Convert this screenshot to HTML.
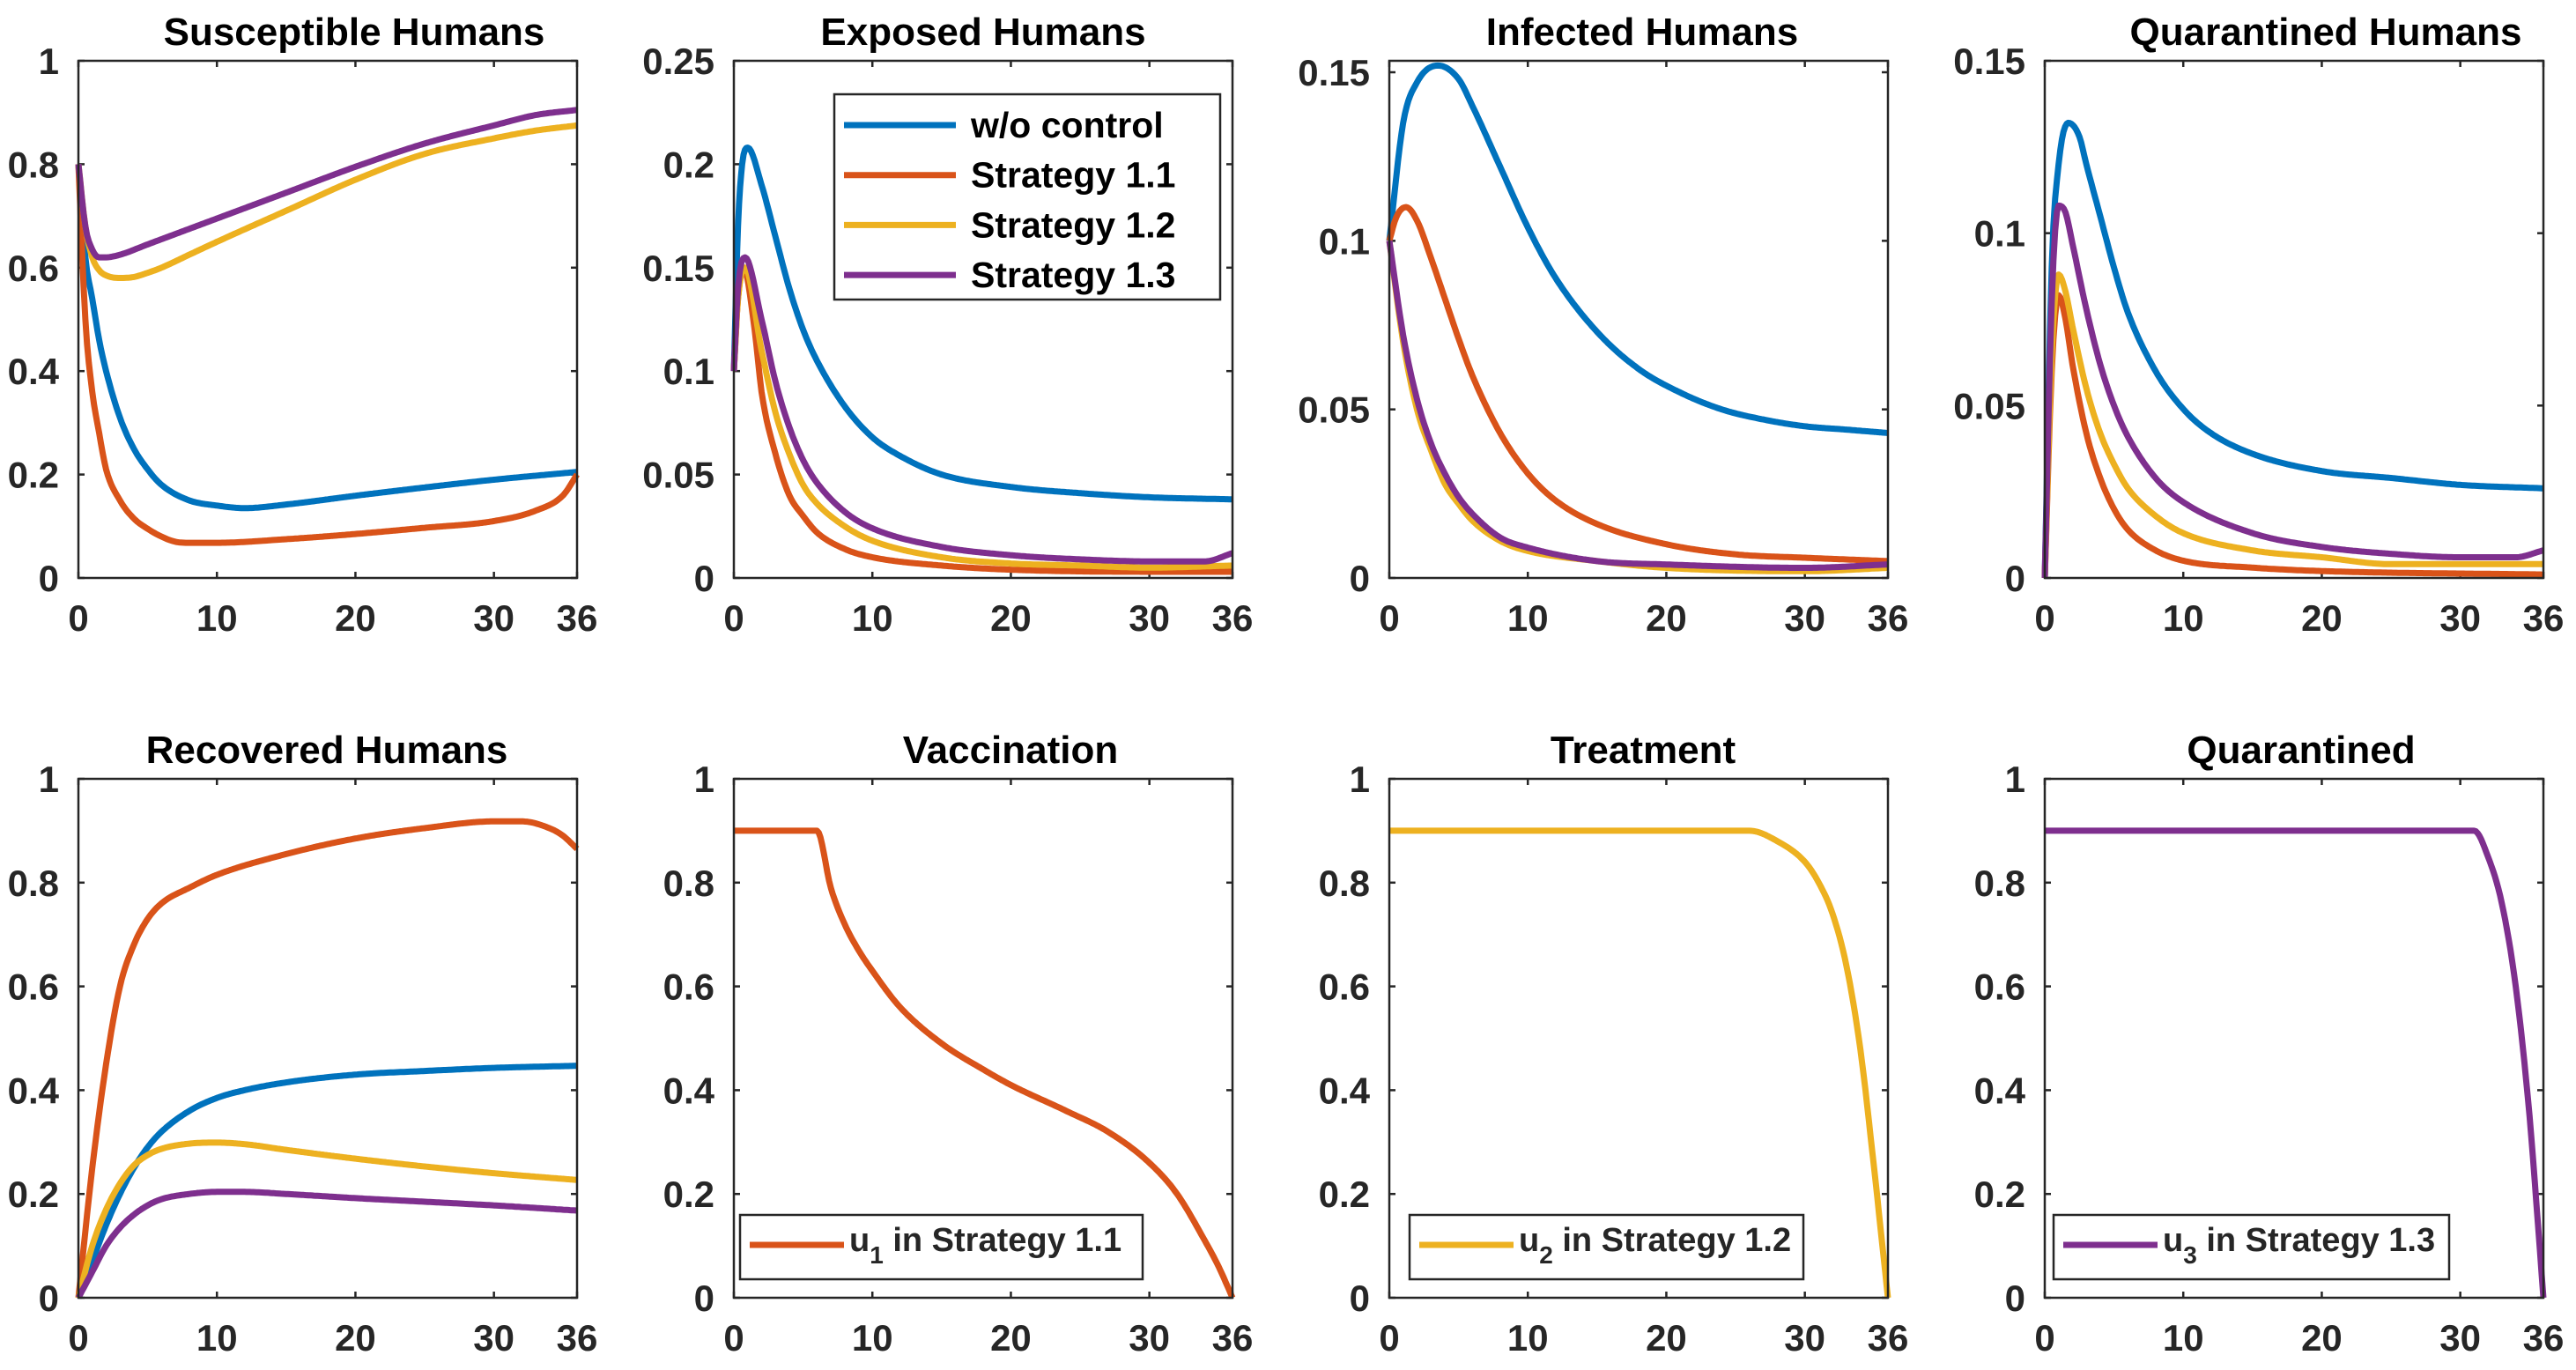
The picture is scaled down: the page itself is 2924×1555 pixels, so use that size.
<!DOCTYPE html>
<html><head><meta charset="utf-8"><style>
html,body{margin:0;padding:0;background:#fff}
svg{display:block}
text{font-family:"Liberation Sans",Arial,sans-serif;font-weight:bold;fill:#262626}
</style></head><body>
<svg id="fig" width="2924" height="1555" viewBox="0 0 2924 1555" xmlns="http://www.w3.org/2000/svg"></svg>
<script>
const xTicks=[0,10,20,30,36];
const titles=["Susceptible Humans","Exposed Humans","Infected Humans","Quarantined Humans","Recovered Humans","Vaccination","Treatment","Quarantined"];
const titleCenters=[402,1116,1864,2640,371,1147,1865,2612];
const yMaxes=[1,0.25,0.1534,0.15,1,1,1,1];
const yTicks1=[0,0.2,0.4,0.6,0.8,1];
const yTicks2=[0,0.05,0.1,0.15,0.2,0.25];
const yTicks3=[0,0.05,0.1,0.15];
const yTickLabels1=["0","0.2","0.4","0.6","0.8","1"];
const yTickLabels2=["0","0.05","0.1","0.15","0.2","0.25"];
const yTickLabels3=["0","0.05","0.1","0.15"];
const colors={blue:"#0072BD",red:"#D95319",yellow:"#EDB120",purple:"#7E2F8E"};
// Panel 1 Susceptible
const sT_blue=[0,0.5,1,1.5,2,3,4,5,6,8,10,12,15,20,25,30,36];
const sV_blue=[0.8,0.62,0.54,0.46,0.40,0.31,0.25,0.21,0.18,0.15,0.14,0.135,0.142,0.159,0.175,0.19,0.205];
const sT_red=[0,0.5,1,1.5,2,3,4,5,6,7,8,10,15,20,25,30,33,35,36];
const sV_red=[0.8,0.5,0.36,0.28,0.21,0.15,0.115,0.095,0.08,0.07,0.068,0.068,0.075,0.085,0.097,0.11,0.13,0.16,0.2];
const sT_yel=[0,0.5,1,1.5,2,3,4,5,6,8,10,15,20,25,30,33,36];
const sV_yel=[0.8,0.68,0.62,0.595,0.585,0.58,0.582,0.59,0.6,0.625,0.65,0.71,0.77,0.82,0.85,0.865,0.875];
const sT_pur=[0,0.5,1,1.5,2,3,5,8,10,15,20,25,30,33,36];
const sV_pur=[0.8,0.68,0.635,0.62,0.62,0.625,0.645,0.675,0.695,0.745,0.795,0.84,0.875,0.895,0.905];
// Panel 2 Exposed
const eT_blue=[0,0.3,0.6,1,2,3,4,5,6,8,10,12,15,20,25,30,36];
const eV_blue=[0.1,0.17,0.2,0.208,0.19,0.165,0.14,0.12,0.105,0.083,0.068,0.059,0.05,0.044,0.041,0.039,0.038];
const eT_red=[0,0.3,0.7,1.5,2,3,4,5,6,8,10,15,20,30,36];
const eV_red=[0.1,0.135,0.15,0.12,0.09,0.06,0.04,0.03,0.022,0.014,0.01,0.006,0.004,0.003,0.003];
const eT_yel=[0,0.3,0.8,2,3,4,5,6,8,10,15,20,25,30,36];
const eV_yel=[0.1,0.135,0.15,0.11,0.08,0.06,0.045,0.036,0.025,0.018,0.01,0.007,0.006,0.005,0.006];
const eT_pur=[0,0.3,0.8,2,3,4,5,6,8,10,15,20,25,30,34,36];
const eV_pur=[0.1,0.14,0.155,0.125,0.095,0.073,0.057,0.046,0.032,0.024,0.015,0.011,0.009,0.008,0.008,0.012];
// Panel 3 Infected
const iT_blue=[0,1,2,3.5,5,6,8,10,12,15,18,21,24,27,30,33,36];
const iV_blue=[0.1,0.135,0.147,0.152,0.148,0.14,0.122,0.104,0.089,0.073,0.062,0.055,0.05,0.047,0.045,0.044,0.043];
const iT_red=[0,0.5,1.2,2,3,4,5,6,8,10,12,15,20,25,30,36];
const iV_red=[0.1,0.107,0.11,0.106,0.095,0.083,0.071,0.06,0.043,0.031,0.023,0.016,0.01,0.007,0.006,0.005];
const iT_yel=[0,1,2,3,4,5,6,8,10,15,20,30,36];
const iV_yel=[0.1,0.07,0.05,0.038,0.028,0.022,0.017,0.011,0.008,0.005,0.003,0.002,0.003];
const iT_pur=[0,1,2,3,4,5,6,8,10,15,20,30,36];
const iV_pur=[0.1,0.072,0.053,0.04,0.031,0.024,0.019,0.012,0.009,0.005,0.004,0.003,0.004];
// Panel 4 Quarantined humans
const qT_blue=[0,0.5,1,1.7,2.5,3,4,5,6,8,10,12,15,20,25,30,36];
const qV_blue=[0,0.09,0.12,0.132,0.128,0.12,0.105,0.09,0.077,0.06,0.049,0.042,0.036,0.031,0.029,0.027,0.026];
const qT_red=[0,0.5,1,1.5,2,3,4,5,6,8,10,15,20,36];
const qV_red=[0,0.06,0.082,0.075,0.062,0.042,0.029,0.02,0.014,0.008,0.005,0.003,0.002,0.001];
const qT_yel=[0,0.5,1,1.5,2,3,4,5,6,8,10,15,20,25,30,36];
const qV_yel=[0,0.065,0.088,0.083,0.073,0.055,0.042,0.033,0.026,0.018,0.013,0.008,0.006,0.004,0.004,0.004];
const qT_pur=[0,0.5,1,1.5,2,3,4,5,6,8,10,15,20,25,30,34,36];
const qV_pur=[0,0.08,0.108,0.106,0.097,0.078,0.062,0.05,0.041,0.029,0.022,0.013,0.009,0.007,0.006,0.006,0.008];
// Panel 5 Recovered
const rT_red=[0,1,2,3,4,5,6,8,10,15,20,25,30,32,34,35,36];
const rV_red=[0,0.25,0.45,0.6,0.68,0.73,0.76,0.79,0.815,0.855,0.885,0.905,0.918,0.918,0.905,0.89,0.865];
const rT_blue=[0,1,2,3,4,5,6,8,10,12,15,20,25,30,36];
const rV_blue=[0,0.07,0.14,0.2,0.25,0.29,0.32,0.36,0.385,0.4,0.415,0.43,0.437,0.443,0.447];
const rT_yel=[0,1,2,3,4,5,6,8,10,12,15,20,25,30,36];
const rV_yel=[0,0.1,0.17,0.22,0.255,0.275,0.287,0.297,0.299,0.296,0.285,0.268,0.253,0.24,0.227];
const rT_pur=[0,1,2,3,4,5,6,8,10,12,15,20,25,30,36];
const rV_pur=[0,0.05,0.1,0.135,0.16,0.178,0.19,0.2,0.204,0.204,0.2,0.192,0.185,0.178,0.168];
// Controls
const u1T=[0,6,7,8,9,10,12,15,18,20,24,27,30,32,34,35,36];
const u1V=[0.9,0.9,0.79,0.72,0.67,0.63,0.56,0.49,0.44,0.41,0.36,0.32,0.26,0.2,0.11,0.06,0];
const u2T=[0,26,28,30,31,32,33,34,35,35.6,36];
const u2V=[0.9,0.9,0.88,0.84,0.8,0.74,0.64,0.48,0.25,0.1,0];
const u3T=[0,31,32,33,34,35,35.5,36];
const u3V=[0.9,0.9,0.85,0.76,0.6,0.35,0.18,0];

const NS="http://www.w3.org/2000/svg";
const svg=document.getElementById("fig");
const lefts=[89,833,1577,2321], W=566;
const tops=[69,884], H=[587,589];
function mk(tag,attrs,parent){const e=document.createElementNS(NS,tag);for(const k in attrs)e.setAttribute(k,attrs[k]);(parent||svg).appendChild(e);return e;}
// monotone cubic (Fritsch-Carlson) sampling
function monoSample(xs,ys){
  const n=xs.length,d=[],m=new Array(n);
  for(let i=0;i<n-1;i++)d.push((ys[i+1]-ys[i])/(xs[i+1]-xs[i]));
  m[0]=d[0];m[n-1]=d[n-2];
  for(let i=1;i<n-1;i++){m[i]=(d[i-1]*d[i]<=0)?0:(d[i-1]+d[i])/2;}
  for(let i=0;i<n-1;i++){
    if(d[i]===0){m[i]=0;m[i+1]=0;continue;}
    const a=m[i]/d[i],b=m[i+1]/d[i],s=a*a+b*b;
    if(s>9){const t=3/Math.sqrt(s);m[i]=t*a*d[i];m[i+1]=t*b*d[i];}
  }
  const out=[];
  for(let i=0;i<n-1;i++){
    const h=xs[i+1]-xs[i],steps=Math.max(4,Math.ceil(h*8));
    for(let k=0;k<steps;k++){
      const t=k/steps,t2=t*t,t3=t2*t;
      const v=(2*t3-3*t2+1)*ys[i]+(t3-2*t2+t)*h*m[i]+(-2*t3+3*t2)*ys[i+1]+(t3-t2)*h*m[i+1];
      out.push([xs[i]+t*h,v]);
    }
  }
  out.push([xs[n-1],ys[n-1]]);
  return out;
}
const panels=[
  {yt:yTicks1,yl:yTickLabels1,series:[["blue",sT_blue,sV_blue],["red",sT_red,sV_red],["yellow",sT_yel,sV_yel],["purple",sT_pur,sV_pur]]},
  {yt:yTicks2,yl:yTickLabels2,series:[["blue",eT_blue,eV_blue],["red",eT_red,eV_red],["yellow",eT_yel,eV_yel],["purple",eT_pur,eV_pur]]},
  {yt:yTicks3,yl:yTickLabels3,series:[["blue",iT_blue,iV_blue],["red",iT_red,iV_red],["yellow",iT_yel,iV_yel],["purple",iT_pur,iV_pur]]},
  {yt:yTicks3,yl:yTickLabels3,series:[["blue",qT_blue,qV_blue],["red",qT_red,qV_red],["yellow",qT_yel,qV_yel],["purple",qT_pur,qV_pur]]},
  {yt:yTicks1,yl:yTickLabels1,series:[["blue",rT_blue,rV_blue],["red",rT_red,rV_red],["yellow",rT_yel,rV_yel],["purple",rT_pur,rV_pur]]},
  {yt:yTicks1,yl:yTickLabels1,series:[["red",u1T,u1V]],leg:["red","1","Strategy 1.1",840,1297]},
  {yt:yTicks1,yl:yTickLabels1,series:[["yellow",u2T,u2V]],leg:["yellow","2","Strategy 1.2",1600,2047]},
  {yt:yTicks1,yl:yTickLabels1,series:[["purple",u3T,u3V]],leg:["purple","3","Strategy 1.3",2331,2780]}
];
panels.forEach((p,idx)=>{
  const L=lefts[idx%4],T=tops[idx<4?0:1],h=H[idx<4?0:1],ymax=yMaxes[idx];
  const xs=t=>L+t/36*W, ys=v=>T+h-v/ymax*h;
  const g=mk("g",{});
  
  
  const ti=mk("text",{x:titleCenters[idx],y:T-18,"text-anchor":"middle","font-size":44,style:"fill:#000"},g);
  ti.textContent=titles[idx];
  
  
  const clipId="c"+idx;
  const cp=mk("clipPath",{id:clipId},g);mk("rect",{x:L-4,y:T-4,width:W+8,height:h+8},cp);
  xTicks.forEach(t=>{
    mk("line",{x1:xs(t),x2:xs(t),y1:T+h,y2:T+h-7,stroke:"#262626","stroke-width":2.5},g);
    mk("line",{x1:xs(t),x2:xs(t),y1:T,y2:T+7,stroke:"#262626","stroke-width":2.5},g);
    const tx=mk("text",{x:xs(t),y:T+h+60,"text-anchor":"middle","font-size":42},g);tx.textContent=t;
    
    
  });
  p.yt.forEach((v,k)=>{
    mk("line",{x1:L,x2:L+7,y1:ys(v),y2:ys(v),stroke:"#262626","stroke-width":2.5},g);
    mk("line",{x1:L+W,x2:L+W-7,y1:ys(v),y2:ys(v),stroke:"#262626","stroke-width":2.5},g);
    const ty=mk("text",{x:L-22,y:ys(v)+15,"text-anchor":"end","font-size":42},g);ty.textContent=p.yl[k];
    
    
  });
  p.series.forEach(s=>{
    const pts=monoSample(s[1],s[2]).map(q=>xs(q[0]).toFixed(1)+","+ys(q[1]).toFixed(1));
    const pa=mk("polyline",{points:pts.join(" "),fill:"none",stroke:colors[s[0]],"stroke-width":7,"stroke-linejoin":"round","clip-path":"url(#"+clipId+")"},g);
    
    
  });
  const box=mk("rect",{x:L,y:T,width:W,height:h,fill:"none",stroke:"#262626","stroke-width":2.5},g);
  
  
  if(p.leg){
    const [c,sub,lab,x0,x1]=p.leg;
    const lg=mk("g",{},g);
    
    
    mk("rect",{x:x0,y:1379,width:x1-x0,height:73,fill:"#fff",stroke:"#262626","stroke-width":2.5},lg);
    mk("line",{x1:x0+11,x2:x0+118,y1:1413,y2:1413,stroke:colors[c],"stroke-width":7},lg);
    const tt=mk("text",{x:x0+124,y:1420,"font-size":38},lg);
    tt.innerHTML='u<tspan dy="14" font-size="28">'+sub+'</tspan><tspan dy="-14"> in '+lab+'</tspan>';
    
    
  }
});
const lg=mk("g",{});


mk("rect",{x:947,y:107,width:438,height:233,fill:"#fff",stroke:"#262626","stroke-width":2.5},lg);
const legNames=["w/o control","Strategy 1.1","Strategy 1.2","Strategy 1.3"];
const legColors=["blue","red","yellow","purple"];
legNames.forEach((n,i)=>{
  const y=142+i*56.7;
  const ln=mk("line",{x1:958,x2:1085,y1:y,y2:y,stroke:colors[legColors[i]],"stroke-width":7},lg);
  
  
  const t=mk("text",{x:1102,y:y+14,"font-size":41,style:"fill:#000"},lg);t.textContent=n;
  
  
});
</script>
</body></html>
